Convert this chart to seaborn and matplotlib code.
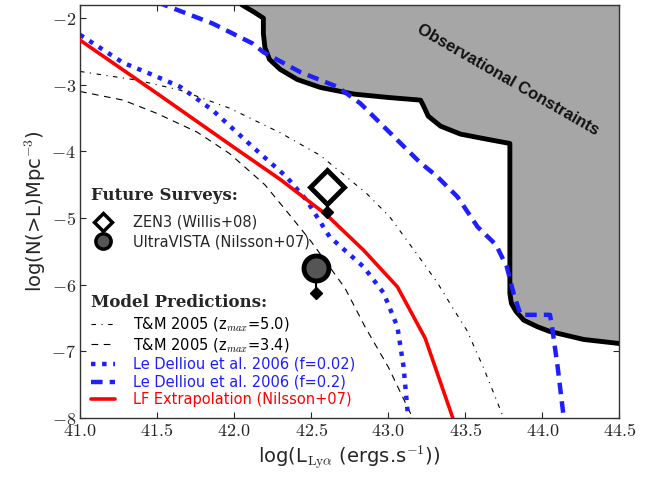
import numpy as np
import pandas as pd
import seaborn as sns
import matplotlib.pyplot as plt
from matplotlib.lines import Line2D

obs_x = [42.05, 42.13, 42.19, 42.19, 42.20, 42.23, 42.30, 42.41, 42.56, 42.78, 43.00, 43.21,
         43.23, 43.26, 43.34, 43.47, 43.65, 43.79, 43.79, 43.79, 43.80, 43.83, 43.88, 43.97,
         44.05, 44.27, 44.50]
obs_y = [-1.80, -1.91, -2.00, -2.23, -2.44, -2.62, -2.77, -2.92, -3.04, -3.14, -3.19, -3.23,
         -3.32, -3.47, -3.62, -3.74, -3.82, -3.88, -6.08, -6.13, -6.28, -6.40, -6.53, -6.63,
         -6.70, -6.82, -6.88]

tm50_x = [41.00, 41.37, 41.65, 41.97, 42.30, 42.56, 42.86, 43.01, 43.19, 43.32, 43.42, 43.51, 43.62, 43.75]
tm50_y = [-2.80, -2.93, -3.08, -3.35, -3.72, -4.06, -4.63, -4.98, -5.55, -5.97, -6.35, -6.68, -7.25, -8.00]

tm34_x = [41.00, 41.28, 41.50, 41.76, 41.97, 42.20, 42.36, 42.50, 42.72, 42.85, 43.00, 43.16]
tm34_y = [-3.10, -3.23, -3.43, -3.71, -4.03, -4.50, -4.95, -5.35, -6.05, -6.63, -7.23, -8.00]

ld002_x = [41.00, 41.28, 41.47, 41.65, 41.86, 42.12, 42.34, 42.47, 42.62, 42.84, 42.97, 43.06, 43.10, 43.13]
ld002_y = [-2.25, -2.67, -2.85, -3.03, -3.38, -3.93, -4.38, -4.73, -5.28, -5.73, -6.12, -6.63, -7.23, -8.00]

ld02_x = [41.50, 41.86, 42.12, 42.19, 42.43, 42.67, 42.82, 43.06, 43.20, 43.32, 43.45, 43.58, 43.70,
          43.77, 43.82, 43.86, 44.05, 44.06, 44.10, 44.14]
ld02_y = [-1.76, -2.08, -2.38, -2.51, -2.81, -3.03, -3.28, -3.83, -4.15, -4.38, -4.68, -5.13, -5.40,
          -5.73, -6.18, -6.45, -6.45, -6.57, -7.23, -8.00]

lf_x = [41.00, 41.50, 42.00, 42.30, 42.60, 42.84, 43.06, 43.24, 43.42]
lf_y = [-2.33, -3.13, -3.94, -4.42, -4.95, -5.48, -6.03, -6.80, -8.00]

# future surveys (upper limits)
surv_names = ["ZEN3 (Willis+08)", "UltraVISTA (Nilsson+07)"]
surv_x = [42.60, 42.53]
surv_y = [-4.53, -5.75]
surv_lim = [-4.91, -6.12]

xticks = [41.0, 41.5, 42.0, 42.5, 43.0, 43.5, 44.0, 44.5]
yticks = [-2, -3, -4, -5, -6, -7, -8]

##############################################################################
sns.set_style('ticks')
plt.rcParams['font.family'] = ['DejaVu Sans']
plt.rcParams['mathtext.fontset'] = 'cm'

fig = plt.figure(figsize=(6.56, 4.79), dpi=100)
ax = fig.add_axes([0.122, 0.127, 0.822, 0.863])

grey = '#a6a6a6'
blue = '#1e1eff'
dd_style = (0, (1.0, 1.5))
dash_style = (0, (2.6, 1.6))
ax.fill(obs_x + [44.6, 44.6, 42.0], obs_y + [-6.88, -1.7, -1.7], color=grey, zorder=1, lw=0)
sns.lineplot(x=obs_x, y=obs_y, sort=False, estimator=None, color='black', lw=3.5, ax=ax, zorder=3)

sns.lineplot(x=tm50_x, y=tm50_y, sort=False, estimator=None, color='black', lw=0.8,
             linestyle=(0, (4, 5, 1, 5)), ax=ax, zorder=2)
sns.lineplot(x=tm34_x, y=tm34_y, sort=False, estimator=None, color='black', lw=0.8,
             linestyle=(0, (6, 5)), ax=ax, zorder=2)
sns.lineplot(x=ld002_x, y=ld002_y, sort=False, estimator=None, color=blue, lw=3.2,
             linestyle=dd_style, ax=ax, zorder=2)
sns.lineplot(x=ld02_x, y=ld02_y, sort=False, estimator=None, color=blue, lw=3.2,
             linestyle=dash_style, ax=ax, zorder=4)
sns.lineplot(x=lf_x, y=lf_y, sort=False, estimator=None, color='red', lw=2.6, ax=ax, zorder=3)

# survey points with upper limit arrows
ax.vlines(surv_x, surv_lim, surv_y, color='black', lw=1.5, zorder=5)
ax.plot(surv_x, surv_lim, 'D', color='black', ms=6, zorder=5)
ax.plot(surv_x[0], surv_y[0], 'D', ms=17, mfc='white', mec='black', mew=3.5, zorder=6)
ax.plot(surv_x[1], surv_y[1], 'o', ms=18, mfc='#555555', mec='black', mew=3.5, zorder=6)

ax.text(43.78, -2.93, "Observational Constraints", rotation=-30, ha='center', va='center',
        fontsize=12, fontweight='bold', family='Liberation Sans', color='#111111', zorder=7)

ax.set_xlim(41.0, 44.5)
ax.set_ylim(-8, -1.8)
ax.set_xticks(xticks)
ax.set_xticklabels(['$%.1f$' % v for v in xticks])
ax.set_yticks(yticks)
ax.set_yticklabels(['$%d$' % v for v in yticks])
ax.tick_params(direction='in', top=True, right=True, length=4, width=0.8, labelsize=13, pad=3)
for s in ax.spines.values():
    s.set_linewidth(1.0)
    s.set_color('#333333')

ax.set_xlabel(r"log(L$_{\rm Ly\alpha}$ (ergs.s$^{\mathsf{-1}}$))", fontsize=14, labelpad=2)
ax.set_ylabel(r"log(N(>L)Mpc$^{\mathsf{-3}}$)", fontsize=14, labelpad=2)

# legends
title_font = {'family': 'DejaVu Serif', 'weight': 'bold', 'size': 12}
h1 = [Line2D([], [], marker='D', ls='none', ms=9, mfc='white', mec='black', mew=2.5),
      Line2D([], [], marker='o', ls='none', ms=11, mfc='#555555', mec='black', mew=2.5)]
leg1 = ax.legend(h1, surv_names, title="Future Surveys:", loc='upper left',
                 bbox_to_anchor=(0.02, 0.56), frameon=False, fontsize=10.5, alignment='left',
                 handlelength=1.65, handletextpad=1.25, labelspacing=0.3, borderpad=0, borderaxespad=0,
                 title_fontproperties=title_font)
leg1._legend_box.sep = 8
ax.add_artist(leg1)

model_names = ["T&M 2005 (z$_{max}$=5.0)", "T&M 2005 (z$_{max}$=3.4)",
               "Le Delliou et al. 2006 (f=0.02)", "Le Delliou et al. 2006 (f=0.2)",
               "LF Extrapolation (Nilsson+07)"]
h2 = [Line2D([], [], color='black', lw=0.8, ls=(0, (4, 5, 1, 5))),
      Line2D([], [], color='black', lw=0.8, ls=(0, (6, 5))),
      Line2D([], [], color=blue, lw=3.2, ls=dd_style),
      Line2D([], [], color=blue, lw=3.2, ls=dash_style),
      Line2D([], [], color='red', lw=2.6)]
leg2 = ax.legend(h2, model_names, title="Model Predictions:", loc='upper left',
                 bbox_to_anchor=(0.02, 0.30), frameon=False, fontsize=10.5, alignment='left',
                 labelcolor=['black', 'black', blue, blue, 'red'],
                 handlelength=1.65, handletextpad=1.25, labelspacing=0.19, borderpad=0, borderaxespad=0,
                 title_fontproperties=title_font)
leg2._legend_box.sep = 3

plt.savefig("out.png", dpi=100)
